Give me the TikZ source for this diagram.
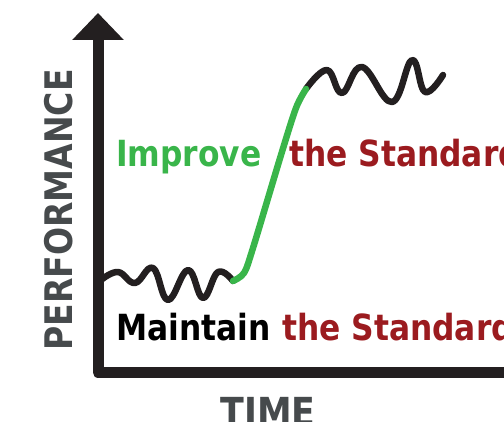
\documentclass[tikz,border=0pt]{standalone}
\usepackage{xcolor}
\usepackage{fontspec}
\newfontfamily\chartfont{DejaVu Sans}[FakeStretch=0.87]
\usetikzlibrary{arrows.meta}
\definecolor{axisblack}{HTML}{231F20}
\definecolor{stdgreen}{HTML}{39B54A}
\definecolor{stdred}{HTML}{9B1B1F}
\definecolor{labelgrey}{HTML}{464A4C}

\begin{document}
\begin{tikzpicture}[x=1pt, y=-1pt,
  wave/.style={line width=6.5pt, line cap=round, line join=round},
  big/.style={inner sep=0pt, anchor=base west, font=\chartfont\bfseries\fontsize{36}{36}\selectfont},
  axislabel/.style={inner sep=0pt, text=labelgrey, font=\chartfont\bfseries\fontsize{38}{38}\selectfont}]
\useasboundingbox (0,0) rectangle (504,422);
% axes
\draw[axisblack, line width=11pt, line join=round, -{Triangle[length=27pt, width=50pt]}] (520,372.5) -- (98,372.5) -- (98,13);
% curve
\coordinate (low) at (233,281);
\coordinate (high) at (306,89);
\draw[wave, axisblack] plot[smooth, tension=0.7] coordinates {(101,280) (118,272) (135,283) (153,268) (168,300) (188,270) (203,298) (218,272) (low)};
\draw[wave, axisblack] plot[smooth, tension=0.7] coordinates {(high) (327,70) (342,93) (362,67) (392,102) (412,60) (425,92) (443,75)};
\draw[wave, stdgreen] plot[smooth] coordinates {(low) (244,273) (253,248) (281,155) (296,108) (high)};
% labels
\node[big, text=stdgreen] (improve) at (116,167) {Improve};
\node[big, text=stdred] (upperstd) at (289,167) {the Standard};
\node[big, text=black] (maintain) at (116,341) {Maintain};
\node[big, text=stdred] (lowerstd) at (282,341) {the Standard};
\node[axislabel, rotate=90] (perf) at (58.5,210) {PERFORMANCE};
\node[axislabel, font=\chartfont\bfseries\fontsize{40}{40}\selectfont, anchor=base] (time) at (268,427) {TIME};
\end{tikzpicture}
\end{document}
